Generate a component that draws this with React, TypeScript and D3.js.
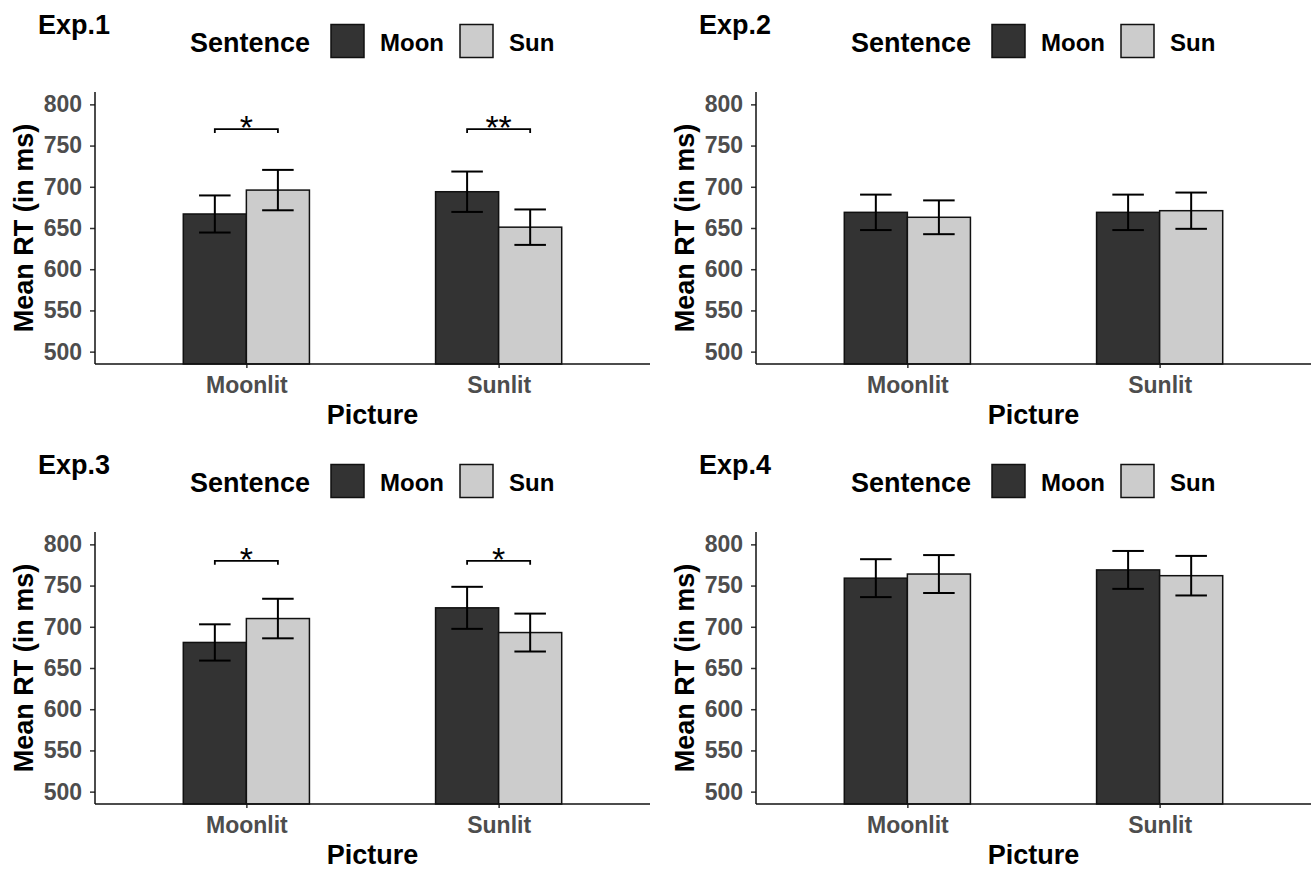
import React, { useRef, useEffect } from "react";
import { select, scaleLinear, scalePoint, scaleBand, axisLeft, axisBottom } from "d3";

const experiments = ["Exp.1", "Exp.2", "Exp.3", "Exp.4"];
const pictures = ["Moonlit", "Sunlit"];
const sentences = ["Moon", "Sun"];
const sentenceColors = ["#333333", "#cccccc"];
const yTicks = [500, 550, 600, 650, 700, 750, 800];

// mean RT per cell, order: Moonlit-Moon, Moonlit-Sun, Sunlit-Moon, Sunlit-Sun
const exp1Mean = [667, 696, 694, 651];
const exp1Err = [22.5, 24.5, 24.5, 21.5];
const exp2Mean = [669, 663, 669, 671];
const exp2Err = [21.5, 20.5, 21.5, 22];
const exp3Mean = [681, 710, 723, 693];
const exp3Err = [22, 24, 25.5, 23];
const exp4Mean = [759, 764, 769, 762];
const exp4Err = [23, 23, 23, 24];

// significance brackets (Moon vs Sun within a picture)
const exp1Sig = [
  { picture: "Moonlit", value: 770, label: "*" },
  { picture: "Sunlit", value: 770, label: "**" },
];
const exp3Sig = [
  { picture: "Moonlit", value: 780, label: "*" },
  { picture: "Sunlit", value: 780, label: "*" },
];

const panels = [
  { title: experiments[0], mean: exp1Mean, err: exp1Err, sig: exp1Sig, dx: 0, dy: 0 },
  { title: experiments[1], mean: exp2Mean, err: exp2Err, sig: [], dx: 661, dy: 0 },
  { title: experiments[2], mean: exp3Mean, err: exp3Err, sig: exp3Sig, dx: 0, dy: 440 },
  { title: experiments[3], mean: exp4Mean, err: exp4Err, sig: [], dx: 661, dy: 440 },
];

const FONT = "'Liberation Sans', Arial, sans-serif";
const left = 95, right = 650, top = 92, bottom = 364;

function App() {
  const svgRef = useRef<SVGSVGElement>(null);

  useEffect(() => {
    const svg = select(svgRef.current);
    svg.selectAll("*").remove();

    const y = scaleLinear().domain([485, 815]).range([bottom, top]);
    const x = scalePoint().domain(pictures).range([left, right]).padding(0.6);
    const dodge = scaleBand().domain(sentences).range([-x.step() / 4, x.step() / 4]).padding(0);
    const bw = dodge.bandwidth();

    panels.forEach((p) => {
      const g = svg.append("g").attr("transform", `translate(${p.dx},${p.dy})`);

      const cells = pictures.flatMap((pic, i) =>
        sentences.map((s, j) => ({
          pic, s, j,
          mean: p.mean[i * 2 + j],
          err: p.err[i * 2 + j],
          cx: x(pic)! + dodge(s)! + bw / 2,
        }))
      );

      // bars
      g.selectAll(".bar")
        .data(cells)
        .join("rect")
        .attr("class", "bar")
        .attr("x", (d) => d.cx - bw / 2)
        .attr("y", (d) => y(d.mean))
        .attr("width", bw)
        .attr("height", (d) => bottom - y(d.mean))
        .attr("fill", (d) => sentenceColors[d.j])
        .attr("stroke", "#111")
        .attr("stroke-width", 1.5);

      // error bars
      const eb = g.selectAll(".err").data(cells).join("g").attr("class", "err")
        .attr("stroke", "#000").attr("stroke-width", 2);
      eb.append("line")
        .attr("x1", (d) => d.cx).attr("x2", (d) => d.cx)
        .attr("y1", (d) => y(d.mean - d.err)).attr("y2", (d) => y(d.mean + d.err));
      eb.append("line")
        .attr("x1", (d) => d.cx - bw / 4).attr("x2", (d) => d.cx + bw / 4)
        .attr("y1", (d) => y(d.mean + d.err)).attr("y2", (d) => y(d.mean + d.err));
      eb.append("line")
        .attr("x1", (d) => d.cx - bw / 4).attr("x2", (d) => d.cx + bw / 4)
        .attr("y1", (d) => y(d.mean - d.err)).attr("y2", (d) => y(d.mean - d.err));

      // significance brackets
      const sg = g.selectAll(".sig").data(p.sig).join("g").attr("class", "sig");
      sg.append("path")
        .attr("d", (d) => {
          const x1 = x(d.picture)! + dodge("Moon")! + bw / 2;
          const x2 = x(d.picture)! + dodge("Sun")! + bw / 2;
          const yy = y(d.value);
          return `M${x1},${yy + 4}V${yy}H${x2}V${yy + 4}`;
        })
        .attr("fill", "none")
        .attr("stroke", "#000")
        .attr("stroke-width", 1.8);
      sg.append("text")
        .attr("x", (d) => x(d.picture)!)
        .attr("y", (d) => y(d.value) + 10)
        .attr("text-anchor", "middle")
        .attr("font-family", FONT)
        .attr("font-size", 34)
        .text((d) => d.label);

      // y axis
      const ya = g.append("g").attr("transform", `translate(${left},0)`)
        .call(axisLeft(y).tickValues(yTicks).tickSize(5).tickSizeOuter(0).tickPadding(8));
      ya.select(".domain").remove();
      ya.selectAll(".tick line").attr("stroke", "#333").attr("stroke-width", 1.5);
      ya.selectAll(".tick text")
        .attr("font-family", FONT).attr("font-size", 23).attr("font-weight", "bold").attr("fill", "#4d4d4d");
      g.append("line").attr("x1", left).attr("x2", left).attr("y1", top).attr("y2", bottom)
        .attr("stroke", "#111").attr("stroke-width", 1.5);

      // x axis
      const xa = g.append("g").attr("transform", `translate(0,${bottom})`)
        .call(axisBottom(x).tickSize(4).tickSizeOuter(0).tickPadding(9));
      xa.select(".domain").remove();
      xa.selectAll(".tick line").attr("stroke", "#333").attr("stroke-width", 1.5);
      xa.selectAll(".tick text")
        .attr("font-family", FONT).attr("font-size", 23).attr("font-weight", "bold").attr("fill", "#4d4d4d");
      g.append("line").attr("x1", left).attr("x2", right).attr("y1", bottom).attr("y2", bottom)
        .attr("stroke", "#111").attr("stroke-width", 1.5);

      // titles
      g.append("text").attr("x", 38).attr("y", 33.5)
        .attr("font-family", FONT).attr("font-size", 27).attr("font-weight", "bold").text(p.title);
      g.append("text").attr("x", (left + right) / 2).attr("y", 424).attr("text-anchor", "middle")
        .attr("font-family", FONT).attr("font-size", 27).attr("font-weight", "bold").text("Picture");
      g.append("text").attr("transform", `translate(33,${(top + bottom) / 2}) rotate(-90)`)
        .attr("text-anchor", "middle")
        .attr("font-family", FONT).attr("font-size", 27).attr("font-weight", "bold").text("Mean RT (in ms)");

      // legend
      const lg = g.append("g");
      lg.append("text").attr("x", 190).attr("y", 51.5)
        .attr("font-family", FONT).attr("font-size", 27).attr("font-weight", "bold").text("Sentence");
      const keyX = [331, 460];
      sentences.forEach((s, j) => {
        lg.append("rect").attr("x", keyX[j]).attr("y", 24.5).attr("width", 33).attr("height", 33)
          .attr("fill", sentenceColors[j]).attr("stroke", "#111").attr("stroke-width", 1.5);
        lg.append("text").attr("x", keyX[j] + 49).attr("y", 50.5)
          .attr("font-family", FONT).attr("font-size", 24).attr("font-weight", "bold").text(s);
      });
    });
  }, []);

  return (
    <svg ref={svgRef} width={1312} height={871}
      style={{ position: "absolute", left: 0, top: 0, background: "#fff" }} />
  );
}

export default App;
